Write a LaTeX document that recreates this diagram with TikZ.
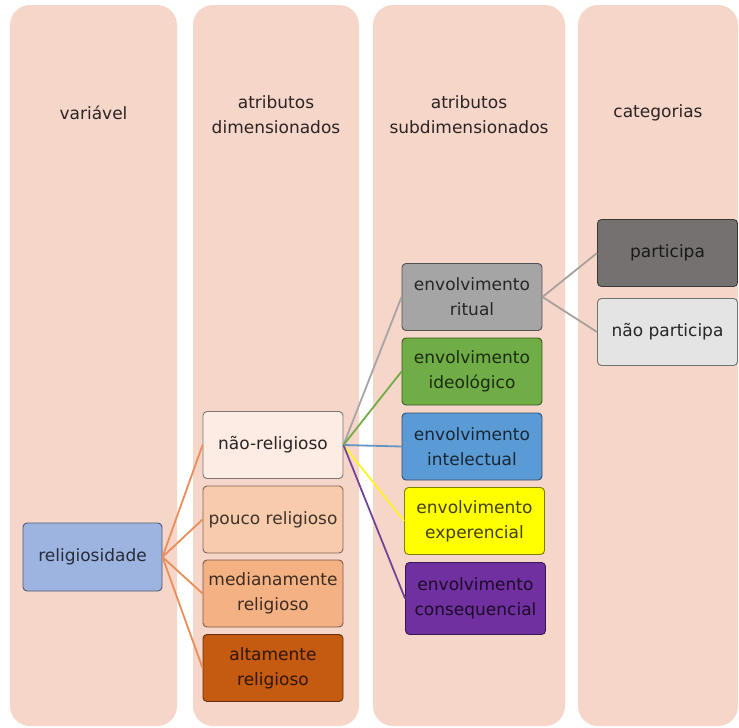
\documentclass[tikz,border=0pt]{standalone}
\usepackage{fontspec}
\setmainfont{DejaVu Sans}
\definecolor{fundo}{HTML}{F7D6CA}
\definecolor{textocab}{HTML}{2A2424}
\definecolor{azulrel}{HTML}{9DB3E0}
\definecolor{laranja}{HTML}{E98E5A}
\definecolor{nrfill}{HTML}{FCECE3}
\definecolor{prfill}{HTML}{F8CBAD}
\definecolor{mrfill}{HTML}{F4B183}
\definecolor{arfill}{HTML}{C55A11}
\definecolor{cinza}{HTML}{A5A5A5}
\definecolor{verde}{HTML}{70AD47}
\definecolor{azul}{HTML}{5B9BD5}
\definecolor{amarelo}{HTML}{FFFF00}
\definecolor{roxo}{HTML}{7030A0}
\definecolor{cinzaesc}{HTML}{767171}
\definecolor{cinzacla}{HTML}{E4E4E4}
\begin{document}
\begin{tikzpicture}[x=1pt,y=-1pt,
  painel/.style={fill=fundo,rounded corners=20pt},
  titulo/.style={align=center,text=textocab,font=\fontsize{17}{25}\selectfont},
  caixa/.style={draw=#1!50!black,fill=#1,rounded corners=4pt,line width=0.9pt,
    minimum width=140pt,minimum height=67pt,inner sep=0pt,align=center,
    text=#1!25!black,font=\fontsize{17}{25}\selectfont},
  ligacao/.style={line width=1.8pt}]
\useasboundingbox (0,0) rectangle (739,728);

% colunas
\fill[painel] (10,5) rectangle (177,726);
\fill[painel] (193,5) rectangle (359,726);
\fill[painel] (373,5) rectangle (565,726);
\fill[painel] (578,5) rectangle (738,726);

\node[titulo] (tvar) at (93.5,113) {variável};
\node[titulo] (tdim) at (276,115) {atributos\\dimensionados};
\node[titulo] (tsub) at (469,115) {atributos\\subdimensionados};
\node[titulo] (tcat) at (658,113) {categorias};

% variavel
\node[caixa=azulrel,minimum width=139pt,minimum height=68pt] (relig) at (92.5,557) {religiosidade};

% atributos dimensionados
\node[caixa=nrfill,text=textocab] (nrel) at (273,445) {não-religioso};
\node[caixa=prfill] (prel) at (273,519.5) {pouco religioso};
\node[caixa=mrfill] (mrel) at (273,593.5) {medianamente\\religioso};
\node[caixa=arfill] (arel) at (273,668) {altamente\\religioso};

% atributos subdimensionados
\node[caixa=cinza,text=black!85] (ritual) at (472,297) {envolvimento\\ritual};
\node[caixa=verde] (ideol) at (472,371.5) {envolvimento\\ideológico};
\node[caixa=azul] (intel) at (472,446.5) {envolvimento\\intelectual};
\node[caixa=amarelo,draw=amarelo!50!black,text=amarelo!25!black] (exper) at (474.5,521) {envolvimento\\experencial};
\node[caixa=roxo,minimum height=72pt] (conseq) at (475.5,598.5) {envolvimento\\consequencial};

% categorias
\node[caixa=cinzaesc,text=black!90] (part) at (667.5,253) {participa};
\node[caixa=cinzacla,text=black!85] (npart) at (667.5,332) {não participa};

\foreach \n in {nrel,prel,mrel,arel}
  \draw[ligacao,laranja] (relig.east) -- (\n.west);

\draw[ligacao,cinza] (nrel.east) -- (ritual.west);
\draw[ligacao,verde] (nrel.east) -- (ideol.west);
\draw[ligacao,azul!80!gray] (nrel.east) -- (intel.west);
\draw[ligacao,yellow!85!white] (nrel.east) -- (exper.west);
\draw[ligacao,roxo!75!gray] (nrel.east) -- (conseq.west);

\draw[ligacao,cinza!90!brown] (ritual.east) -- (part.west);
\draw[ligacao,cinza!90!brown] (ritual.east) -- (npart.west);
\end{tikzpicture}
\end{document}
